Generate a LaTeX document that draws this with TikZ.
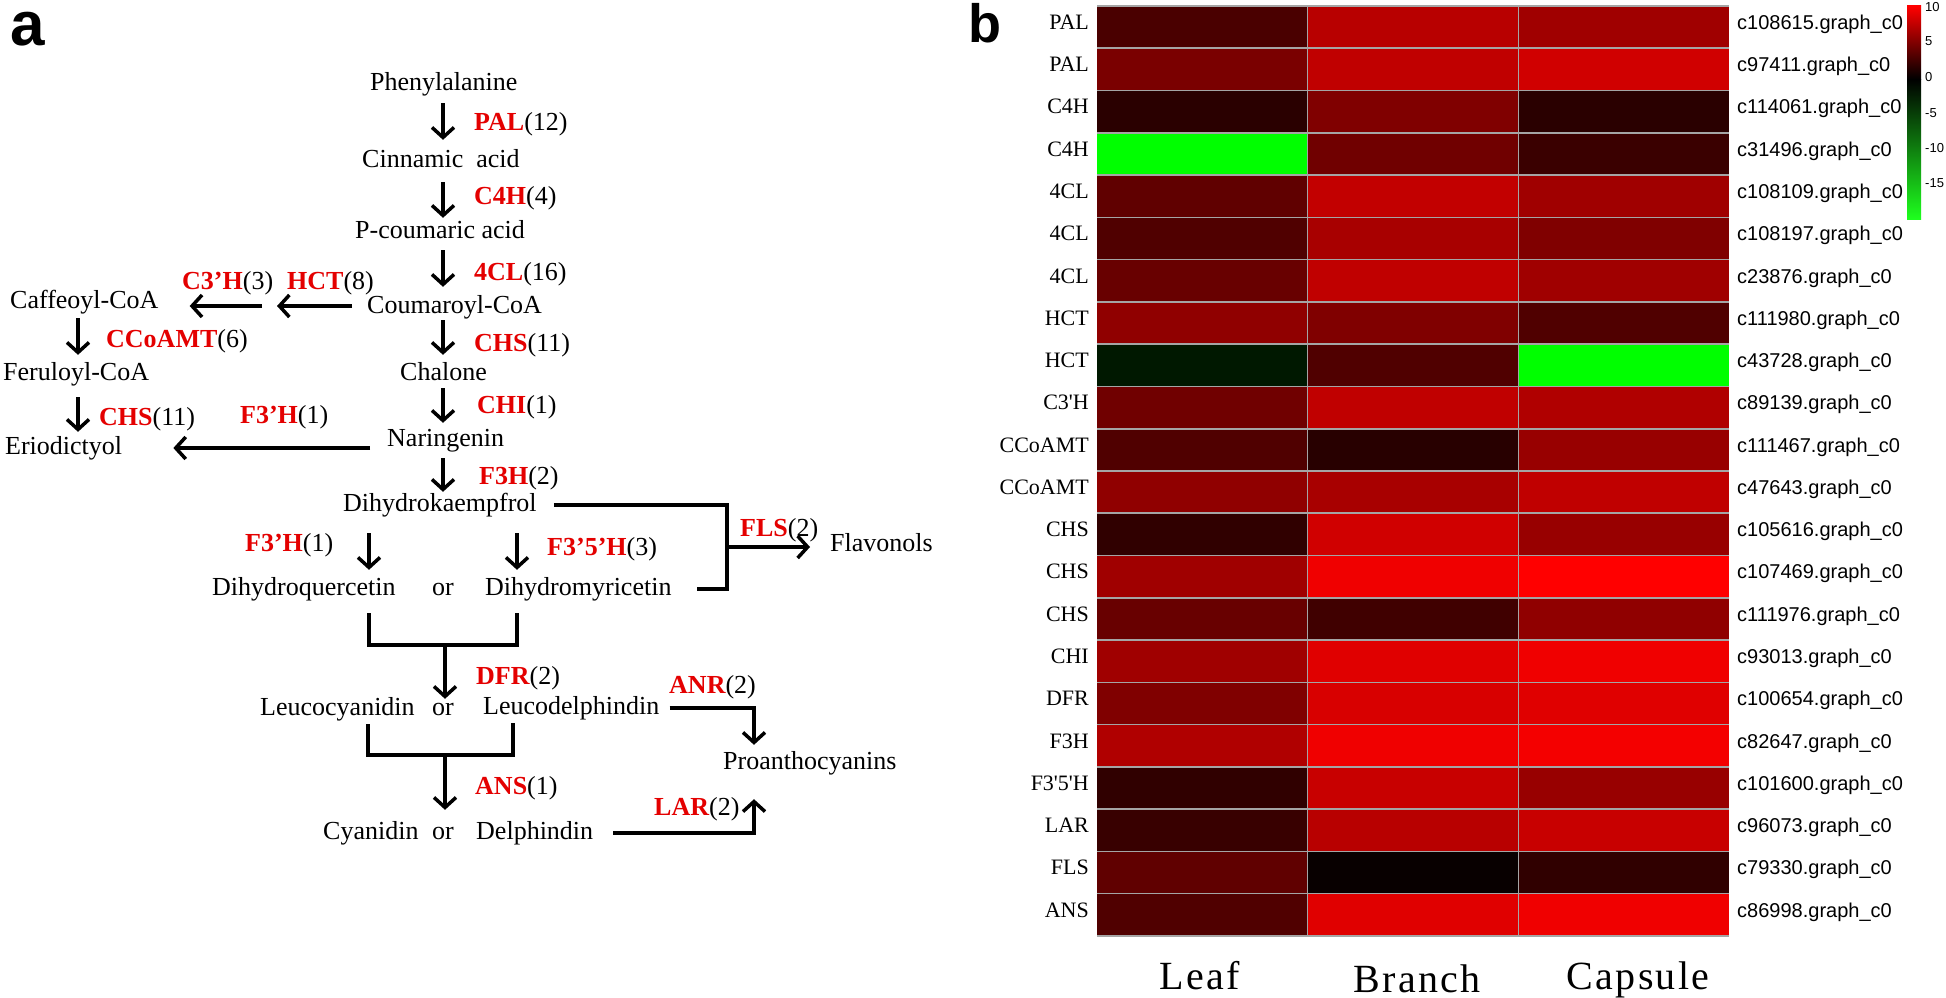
\documentclass[tikz,border=0pt]{standalone}
\usepackage{fontspec}
\setmainfont{Liberation Serif}
\newfontfamily\arialf{Liberation Sans}
\newfontfamily\colf[LetterSpace=6]{Liberation Serif}
\usetikzlibrary{arrows.meta,calc}
\definecolor{enzred}{RGB}{228,0,0}
\definecolor{gridgray}{RGB}{165,165,165}
\newcommand\en[1]{\textbf{\color{enzred}#1}}
\begin{document}
\begin{tikzpicture}[x=1pt,y=-1pt,
  txt/.style={inner sep=0pt, text height=18pt, text depth=6pt, anchor=base west, font=\fontsize{26}{30}\selectfont},
  orlab/.style={txt, anchor=base},
  lab/.style={inner sep=0pt, anchor=base west, font=\fontsize{26}{30}\selectfont},
  arr/.style={line width=3.5pt, -{Straight Barb[length=10pt,width=22pt]}},
  ln/.style={line width=3.5pt, line join=miter},
  rowlab/.style={inner sep=0pt, anchor=mid east, font=\fontsize{22}{24}\selectfont},
  gidlab/.style={inner sep=0pt, anchor=mid west, font=\arialf\fontsize{20}{22}\selectfont},
  cblab/.style={inner sep=0pt, anchor=mid west, font=\arialf\fontsize{13}{14}\selectfont},
  collab/.style={inner sep=0pt, anchor=base, font=\colf\fontsize{40}{44}\selectfont},
  panel/.style={inner sep=0pt, anchor=base west, font=\arialf\bfseries\fontsize{62}{64}\selectfont}]
\useasboundingbox (0,0) rectangle (1946,998);
\fill[white] (0,0) rectangle (1946,998);

% ---------------- panel a ----------------
\node[panel] (pa) at (10,46) {a};

% main column
\node[txt] (phe) at (370,91) {Phenylalanine};
\node[txt] (cin) at (362,167) {Cinnamic\ \ acid};
\node[txt] (pco) at (355,238) {P-coumaric acid};
\node[txt] (cou) at (367,313) {Coumaroyl-CoA};
\node[txt] (cha) at (400,380) {Chalone};
\node[txt] (nar) at (387,446) {Naringenin};
\node[txt] (dhk) at (343,511) {Dihydrokaempfrol};
\node[txt] (dhq) at (212,595) {Dihydroquercetin};
\node[orlab] (or1) at (443,595) {or};
\node[txt] (dhm) at (485,595) {Dihydromyricetin};
\node[txt] (leuc) at (260,715) {Leucocyanidin};
\node[orlab] (or2) at (443,715) {or};
\node[txt] (leud) at (483,714) {Leucodelphindin};
\node[txt] (cya) at (323,839) {Cyanidin};
\node[orlab] (or3) at (443,839) {or};
\node[txt] (del) at (476,839) {Delphindin};
\node[txt] (pro) at (723,769) {Proanthocyanins};
\node[txt] (fla) at (830,551) {Flavonols};
% left column
\node[txt] (caf) at (10,308) {Caffeoyl-CoA};
\node[txt] (fer) at (3,380) {Feruloyl-CoA};
\node[txt] (eri) at (5,454) {Eriodictyol};

% enzyme labels
\node[lab] (lpal) at (474,130) {\en{PAL}(12)};
\node[lab] (lc4h) at (474,204) {\en{C4H}(4)};
\node[lab] (l4cl) at (474,280) {\en{4CL}(16)};
\node[lab] (lchs) at (474,351) {\en{CHS}(11)};
\node[lab] (lchi) at (477,413) {\en{CHI}(1)};
\node[lab] (lf3h) at (479,484) {\en{F3H}(2)};
\node[lab] (lc3h) at (182,289) {\en{C3’H}(3)};
\node[lab] (lhct) at (287,289) {\en{HCT}(8)};
\node[lab] (lcco) at (106,347) {\en{CCoAMT}(6)};
\node[lab] (lchs2) at (99,425) {\en{CHS}(11)};
\node[lab] (lf3pa) at (240,423) {\en{F3’H}(1)};
\node[lab] (lf3pb) at (245,551) {\en{F3’H}(1)};
\node[lab] (lf35) at (547,555) {\en{F3’5’H}(3)};
\node[lab] (lfls) at (740,536) {\en{FLS}(2)};
\node[lab] (ldfr) at (476,684) {\en{DFR}(2)};
\node[lab] (lanr) at (669,693) {\en{ANR}(2)};
\node[lab] (lans) at (475,794) {\en{ANS}(1)};
\node[lab] (llar) at (654,815) {\en{LAR}(2)};

% helper coordinates
\coordinate (cx) at (443,0);
\coordinate (lx) at (78,0);
\coordinate (hy) at (0,306);
\coordinate (hmid) at (270,306);
\coordinate (ny) at (0,448);
\coordinate (dx1) at (369,0);
\coordinate (dx2) at (517,0);
\coordinate (j1) at (445,645);
\coordinate (ex1) at (368,0);
\coordinate (ex2) at (513,0);
\coordinate (j2) at (445,755);
\coordinate (fj) at (727,547);
\coordinate (anx) at (754,0);

% main column arrows
\draw[arr, shorten <=6pt, shorten >=9pt] (phe.south -| cx) -- (cin.north -| cx);
\draw[arr, shorten <=9pt, shorten >=2pt] (cin.south -| cx) -- (pco.north -| cx);
\draw[arr, shorten <=6pt, shorten >=8pt] (pco.south -| cx) -- (cou.north -| cx);
\draw[arr, shorten <=1pt, shorten >=7pt] (cou.south -| cx) -- (cha.north -| cx);
\draw[arr, shorten <=2pt, shorten >=5pt] (cha.south -| cx) -- (nar.north -| cx);
\draw[arr, shorten <=6pt, shorten >=1pt] (nar.south -| cx) -- (dhk.north -| cx);

% HCT, C3'H arrows
\draw[arr, shorten <=15pt, shorten >=7pt] (cou.west |- hy) -- (hmid);
\draw[arr, shorten <=8pt, shorten >=31pt] (hmid) -- (caf.east |- hy);
% left column arrows
\draw[arr, shorten <=4pt, shorten >=7pt] (caf.south -| lx) -- (fer.north -| lx);
\draw[arr, shorten <=11pt, shorten >=4pt] (fer.south -| lx) -- (eri.north -| lx);
% Naringenin -> Eriodictyol
\draw[arr, shorten <=17pt, shorten >=51pt] (nar.west |- ny) -- (eri.east |- ny);

% Dihydrokaempfrol branches
\draw[arr, shorten <=16pt, shorten >=7pt] (dhk.south -| dx1) -- (dhq.north -| dx1);
\draw[arr, shorten <=16pt, shorten >=7pt] (dhk.south -| dx2) -- (dhm.north -| dx2);

% upper bracket
\draw[ln] ($(dhq.south -| dx1)+(0,12)$) -- (dx1 |- j1) -- (dx2 |- j1) -- ($(dhm.south -| dx2)+(0,12)$);
\draw[arr, shorten >=-2pt] (j1) -- (j1 |- or2.north);
% lower bracket
\draw[ln] ($(leuc.south -| ex1)+(0,3)$) -- (ex1 |- j2) -- (ex2 |- j2) -- ($(leud.south -| ex2)+(0,3)$);
\draw[arr, shorten >=11pt] (j2) -- (j2 |- or3.north);

% FLS
\draw[ln] ([xshift=17pt]dhk.east) -| (fj) |- ([xshift=25pt]dhm.east);
\draw[arr, shorten >=20pt] (fj) -- (fj -| fla.west);
% ANR
\draw[arr] ([xshift=10pt]leud.east) -| ([yshift=6pt]pro.north -| anx);
% LAR
\draw[arr] ([xshift=20pt]del.east) -| ([yshift=-24pt]pro.south -| anx);

% ---------------- panel b ----------------
\node[panel, font=\arialf\bfseries\fontsize{54}{56}\selectfont] (pb) at (968,43) {b};

\foreach \i/\lab/\gid/\ra/\ga/\rb/\gb/\rc/\gc in {
 1/PAL/c108615/74/0/184/0/160/0,
 2/PAL/c97411/122/0/192/0/208/0,
 3/C4H/c114061/42/0/128/0/42/0,
 4/C4H/c31496/0/255/112/0/58/0,
 5/4CL/c108109/96/0/194/0/160/0,
 6/4CL/c108197/80/0/168/0/128/0,
 7/4CL/c23876/104/0/192/0/160/0,
 8/HCT/c111980/144/0/128/0/80/0,
 9/HCT/c43728/0/24/80/0/0/255,
 10/C3\textquotesingle H/c89139/112/0/192/0/176/0,
 11/CCoAMT/c111467/80/0/40/0/152/0,
 12/CCoAMT/c47643/144/0/168/0/192/0,
 13/CHS/c105616/48/0/208/0/152/0,
 14/CHS/c107469/160/0/240/0/255/0,
 15/CHS/c111976/104/0/64/0/144/0,
 16/CHI/c93013/160/0/224/0/240/0,
 17/DFR/c100654/128/0/216/0/224/0,
 18/F3H/c82647/176/0/240/0/244/0,
 19/F3\textquotesingle 5\textquotesingle H/c101600/48/0/200/0/152/0,
 20/LAR/c96073/56/0/184/0/200/0,
 21/FLS/c79330/96/0/8/0/48/0,
 22/ANS/c86998/80/0/224/0/240/0}
{
  \pgfmathsetmacro\yt{6+42.27*(\i-1)}
  \pgfmathsetmacro\yb{6+42.27*\i}
  \pgfmathsetmacro\ym{6+42.27*(\i-0.5)}
  \definecolor{cL}{RGB}{\ra,\ga,0}
  \definecolor{cB}{RGB}{\rb,\gb,0}
  \definecolor{cC}{RGB}{\rc,\gc,0}
  \fill[cL] (1097,\yt) rectangle (1307,\yb);
  \fill[cB] (1307,\yt) rectangle (1518,\yb);
  \fill[cC] (1518,\yt) rectangle (1729,\yb);
  \node[rowlab] (r\i) at (1089,\ym) {\lab};
  \node[gidlab] (g\i) at (1737,\ym) {\gid.graph\_c0};
}
% grid lines
\foreach \i in {0,...,22} {
  \pgfmathsetmacro\yy{6+42.27*\i}
  \draw[gridgray, line width=1.6pt] (1097,\yy) -- (1729,\yy);
}
\foreach \xx in {1307,1518} {
  \draw[gridgray, line width=1pt] (\xx,6) -- (\xx,936);
}

% column labels
\node[collab] (cl1) at (1200,989) {Leaf};
\node[collab] (cl2) at (1417,992) {Branch};
\node[collab] (cl3) at (1638,989) {Capsule};

% colour bar
\shade[top color=red, bottom color=black] (1907,6) rectangle (1921,79);
\shade[top color=black, bottom color={rgb,255:red,30;green,255;blue,30}] (1907,79) rectangle (1921,219);
\node[cblab] (cb1) at (1925,9) {10};
\node[cblab] (cb2) at (1925,43) {5};
\node[cblab] (cb3) at (1925,79) {0};
\node[cblab] (cb4) at (1925,115) {-5};
\node[cblab] (cb5) at (1925,150) {-10};
\node[cblab] (cb6) at (1925,185) {-15};
\end{tikzpicture}
\end{document}
